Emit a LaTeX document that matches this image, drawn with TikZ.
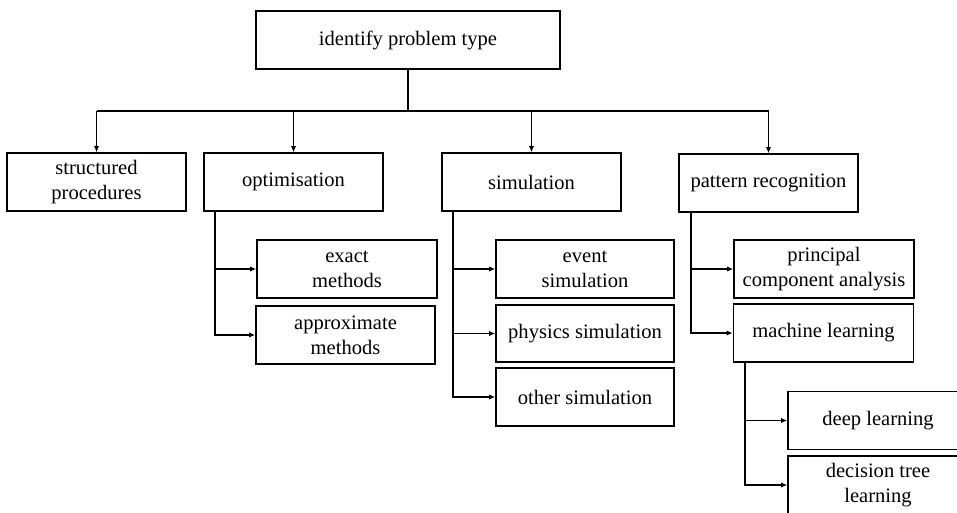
\documentclass[tikz,border=0pt]{standalone}
\usepackage{fontspec}
\setmainfont{Liberation Serif}
\usetikzlibrary{arrows.meta}
\usetikzlibrary{positioning}

\tikzset{
    box/.style={draw, line width=0.85pt, align=center, inner sep=1pt,
        minimum width=179*0.02cm, minimum height=58*0.02cm,
        font=\fontsize{11.7}{14.2}\selectfont},
    link/.style={line width=0.85pt},
    arr/.style={link, -{Latex[length=3.5pt,width=3pt]}}
}

\begin{document}
\begin{tikzpicture}[x=0.02cm, y=-0.02cm]
% Fix the page to the reference size
\clip (0,0) rectangle (957,512);

% Top box
\node[box, minimum width=304*0.02cm] (top) at (408,40) {identify problem type};

% First level
\node[box] (sp)  at (96.5,182)  {structured\\procedures};
\node[box] (opt) at (293.5,182) {optimisation};
\node[box] (sim) at (531.5,182) {simulation};
\node[box] (pat) at (768.5,183) {pattern recognition};

% Second level
\node[box, minimum width=180*0.02cm] (exact)  at (347,269)   {exact\\methods};
\node[box] (approx) at (345.5,335) {approximate\\methods};
\node[box, minimum width=178*0.02cm] (event) at (585,269) {event\\simulation};
\node[box, minimum width=178*0.02cm, minimum height=57*0.02cm] (phys) at (585,333.5) {physics simulation};
\node[box, minimum width=178*0.02cm] (other) at (585,397) {other simulation};
\node[box, minimum width=180*0.02cm] (pca) at (824,269) {principal\\component analysis};
\node[box, minimum width=180*0.02cm] (ml)  at (823.5,333) {machine learning};

% Third level
\node[box, minimum width=180*0.02cm] (deep)  at (878,420.5) {deep learning};
\node[box, minimum width=180*0.02cm] (dtree) at (878,485)   {decision tree\\learning};

% Bus from the top box
\coordinate (bus) at (408,111);
\draw[link] (top) -- (bus);
\draw[link] (sp.north |- bus) -- (pat.north |- bus);
\foreach \n in {sp,opt,sim,pat} {
    \draw[arr] (\n.north |- bus) -- (\n.north);
}

% Trunks below the boxes
\coordinate (opt-trunk) at (215,0);
\coordinate (sim-trunk) at (453,0);
\coordinate (pat-trunk) at (691,0);
\coordinate (ml-trunk)  at (745,0);

\foreach \n in {exact,approx} {
    \draw[arr] (opt.south -| opt-trunk) |- (\n.west);
}
\foreach \n in {event,phys,other} {
    \draw[arr] (sim.south -| sim-trunk) |- (\n.west);
}
\foreach \n in {pca,ml} {
    \draw[arr] (pat.south -| pat-trunk) |- (\n.west);
}
\foreach \n in {deep,dtree} {
    \draw[arr] (ml.south -| ml-trunk) |- (\n.west);
}
\end{tikzpicture}
\end{document}
